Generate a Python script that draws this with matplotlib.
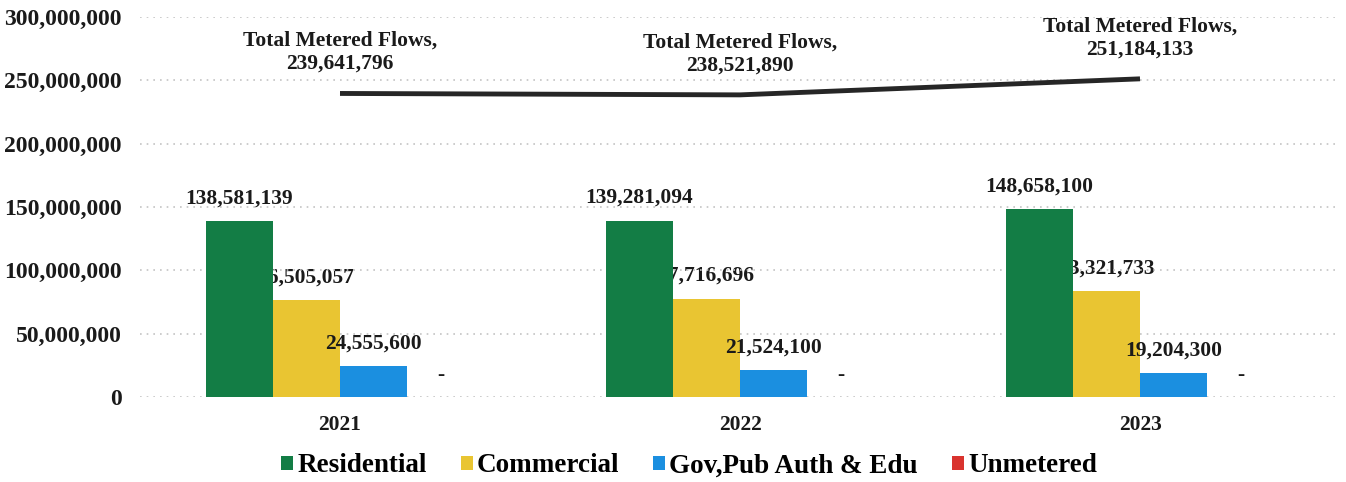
import matplotlib
matplotlib.use("Agg")
import matplotlib.pyplot as plt
import numpy as np

years = ["2021", "2022", "2023"]
series = ["Residential", "Commercial", "Gov,Pub Auth & Edu", "Unmetered"]
residential = [138581139, 139281094, 148658100]
commercial = [76505057, 77716696, 83321733]
gov_pub_edu = [24555600, 21524100, 19204300]
unmetered = [0, 0, 0]
total_metered = [239641796, 238521890, 251184133]
y_ticks = [0, 50000000, 100000000, 150000000, 200000000, 250000000, 300000000]

colors = ["#137d45", "#e9c532", "#1b8fe0", "#d9332e"]

plt.rcParams['font.family'] = ['Liberation Serif', 'DejaVu Serif']
plt.rcParams['font.weight'] = 'bold'

fig = plt.figure(figsize=(13.46, 4.82), dpi=100)
ax = fig.add_axes([140 / 1346, 85 / 482, 1200 / 1346, 380 / 482])

x = np.arange(len(years))
width = 0.1675
values = [residential, commercial, gov_pub_edu, unmetered]
# commercial labels sit behind the bars, the rest in front
label_z = [4, 1.5, 4, 4]

for k, (name, vals) in enumerate(zip(series, values)):
    pos = x + (k - 1.5) * width
    ax.bar(pos, vals, width, color=colors[k], label=name, zorder=2)
    for px, v in zip(pos, vals):
        txt = f"{v:,}" if v else "-"
        ax.annotate(txt, (px, v), xytext=(0, 9), textcoords="offset points",
                    ha="center", va="bottom", fontsize=15.5, fontweight="bold",
                    color="#1a1a1a", zorder=label_z[k])

ax.plot(x, total_metered, color="#262626", lw=3.5, zorder=3,
        solid_capstyle="butt")
for px, v in zip(x, total_metered):
    ax.annotate(f"Total Metered Flows,\n{v:,}", (px, v), xytext=(0, 14),
                textcoords="offset points", ha="center", va="bottom",
                fontsize=15.5, fontweight="bold", color="#1a1a1a",
                linespacing=1.2)

ax.set_xlim(-0.5, 2.5)
ax.set_ylim(0, 300000000)
ax.set_yticks(y_ticks)
ax.set_yticklabels([f"{t:,}" for t in y_ticks])
ax.set_xticks(x)
ax.set_xticklabels(years)
ax.tick_params(axis="y", length=0, pad=13, labelsize=17, colors="#1a1a1a")
ax.tick_params(axis="x", length=0, pad=13, labelsize=15.5, colors="#1a1a1a")
ax.grid(axis="y", color="#c4c4c4", linestyle=(0, (1, 3)), lw=1.2, zorder=0)
for s in ax.spines.values():
    s.set_visible(False)

fig.legend(loc="center", bbox_to_anchor=(689 / 1346, 1 - 466 / 482), ncol=4,
           frameon=False, handlelength=0.45, handleheight=0.45,
           handletextpad=0.15, columnspacing=1.25,
           prop={"size": 19.5, "weight": "bold"})

fig.savefig("out.png", dpi=100)
